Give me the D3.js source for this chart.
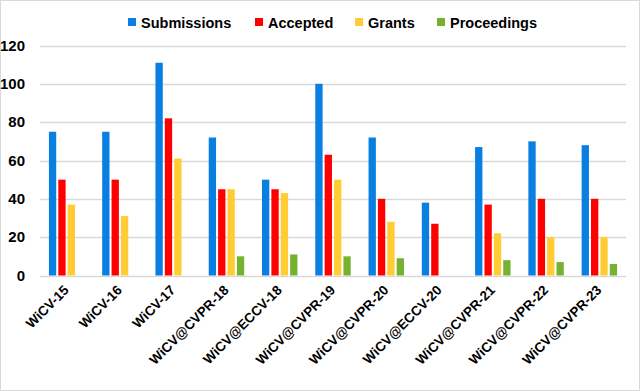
<!DOCTYPE html>
<html>
<head>
<meta charset="utf-8">
<script src="https://cdn.jsdelivr.net/npm/d3@7"></script>
<style>
  html, body { margin: 0; padding: 0; background: #fff; }
  svg { display: block; }
</style>
</head>
<body>
<svg width="640" height="391"></svg>
<script>
// chart data
var events = ["WiCV-15", "WiCV-16", "WiCV-17", "WiCV@CVPR-18", "WiCV@ECCV-18", "WiCV@CVPR-19",
              "WiCV@CVPR-20", "WiCV@ECCV-20", "WiCV@CVPR-21", "WiCV@CVPR-22", "WiCV@CVPR-23"];
var seriesNames = ["Submissions", "Accepted", "Grants", "Proceedings"];
var submissions = [75, 75, 111, 72, 50, 100, 72, 38, 67, 70, 68];
var accepted = [50, 50, 82, 45, 45, 63, 40, 27, 37, 40, 40];
var grants = [37, 31, 61, 45, 43, 50, 28, null, 22, 20, 20];
var proceedings = [null, null, null, 10, 11, 10, 9, null, 8, 7, 6];
var yTicks = [0, 20, 40, 60, 80, 100, 120];

document.addEventListener('DOMContentLoaded', function() {
    draw();
});

function draw() {
    var svg = d3.select("svg"),
        width = +svg.attr("width"),
        height = +svg.attr("height");
    var font = "'Liberation Sans', Arial, sans-serif";

    // light frame round the picture
    svg.append("rect")
        .attr("x", 0.5).attr("y", 0.5)
        .attr("width", width - 1).attr("height", height - 1)
        .attr("fill", "#fff")
        .attr("stroke", "#d9d9d9");

    var colors = ["#0a7fe2", "#ff0000", "#ffcd33", "#76b22f"];
    var allSeries = [submissions, accepted, grants, proceedings];

    var x = d3.scaleBand()
        .domain(events)
        .range([40, 626]);

    var inner = d3.scaleBand()
        .domain(seriesNames)
        .range([0, x.bandwidth()])
        .paddingInner(0.22)
        .paddingOuter(0.95);

    var y = d3.scaleLinear()
        .domain([0, 120])
        .range([275.5, 45.5]);

    // gridlines
    svg.append("g")
        .selectAll("line")
        .data(yTicks)
        .enter().append("line")
        .attr("x1", 40).attr("x2", 626)
        .attr("y1", function(d) { return Math.round(y(d)) + 0.5; })
        .attr("y2", function(d) { return Math.round(y(d)) + 0.5; })
        .attr("stroke", "#d9d9d9")
        .attr("stroke-width", 1.5);

    // y axis labels
    svg.append("g")
        .attr("transform", "translate(25,0)")
        .call(d3.axisLeft(y).tickValues(yTicks).tickSize(0).tickPadding(0))
        .call(function(g) { g.select(".domain").remove(); })
        .selectAll("text")
        .attr("font-family", font)
        .attr("font-weight", "bold")
        .attr("font-size", "15px")
        .attr("fill", "#000");

    // bars
    var rows = [];
    events.forEach(function(ev, i) {
        seriesNames.forEach(function(s, j) {
            var v = allSeries[j][i];
            if (v != null) rows.push({ event: ev, series: s, value: v, color: colors[j] });
        });
    });

    svg.append("g")
        .selectAll("rect")
        .data(rows)
        .enter().append("rect")
        .attr("x", function(d) { return x(d.event) + inner(d.series); })
        .attr("y", function(d) { return y(d.value); })
        .attr("width", inner.bandwidth())
        .attr("height", function(d) { return y(0) - y(d.value); })
        .attr("fill", function(d) { return d.color; });

    // x axis labels, rotated
    svg.append("g")
        .selectAll("text")
        .data(events)
        .enter().append("text")
        .attr("transform", function(d) {
            return "translate(" + (x(d) + x.bandwidth() / 2 + 3) + ",291) rotate(-45)";
        })
        .attr("text-anchor", "end")
        .attr("font-family", font)
        .attr("font-weight", "bold")
        .attr("font-size", "13.5px")
        .attr("fill", "#000")
        .text(function(d) { return d; });

    // legend
    var legendX = [128, 255, 355, 437];
    var legend = svg.append("g")
        .selectAll("g")
        .data(seriesNames)
        .enter().append("g")
        .attr("transform", function(d, i) { return "translate(" + legendX[i] + ",0)"; });

    legend.append("rect")
        .attr("x", 0).attr("y", 18)
        .attr("width", 8).attr("height", 8)
        .attr("fill", function(d, i) { return colors[i]; });

    legend.append("text")
        .attr("x", 13).attr("y", 27.5)
        .attr("font-family", font)
        .attr("font-weight", "bold")
        .attr("font-size", "14.5px")
        .attr("fill", "#000")
        .text(function(d) { return d; });
}
</script>
</body>
</html>
